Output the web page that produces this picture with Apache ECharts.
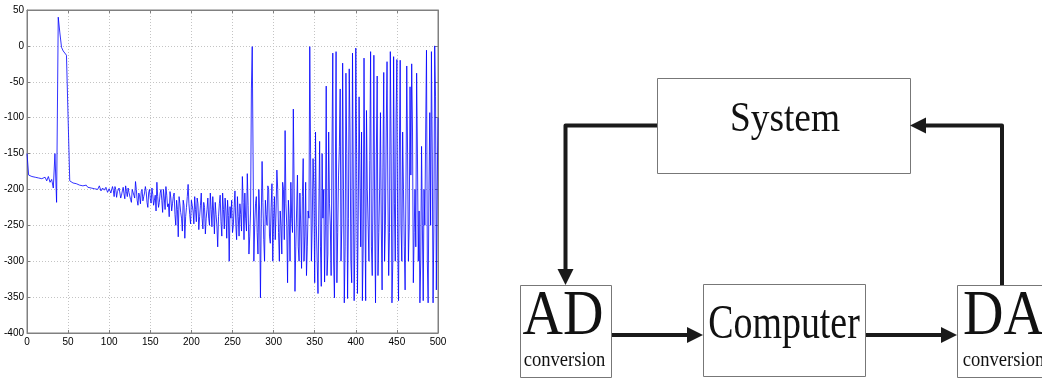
<!DOCTYPE html>
<html>
<head>
<meta charset="utf-8">
<script src="https://cdn.jsdelivr.net/npm/echarts@6/dist/echarts.min.js"></script>
<style>
html,body{margin:0;padding:0;background:#fff;}
#c{width:1042px;height:379px;}
</style>
</head>
<body>
<div id="c"></div>
<script>
// ---- data ----
const xTicks = [0, 50, 100, 150, 200, 250, 300, 350, 400, 450, 500];
const yTicks = [-400, -350, -300, -250, -200, -150, -100, -50, 0, 50];

// values at even x = 0, 2, 4, ..., 500
const evenVals0to50 = [-150, -180, -181, -182, -182, -183, -183, -184, -184, -185, -184, -183, -188, -182, -190,
  -186, -198, -150, -218, 40, 18, -2, -7, -9, -13, -12];
const evenVals52to100 = [-188, -190, -191, -192, -192, -193, -194, -193, -195, -196, -194, -197, -195, -198, -196,
  -199, -197, -200, -195, -202, -198, -201, -197, -204, -199];
const evenVals102to200 = [-205, -196, -210, -200, -203, -198, -212, -202, -206, -195,
  -210, -204, -214, -200, -208, -189, -215, -205, -220, -200,
  -210, -196, -218, -205, -213, -198, -222, -208, -190, -225,
  -205, -215, -200, -228, -208, -220, -203, -230, -210, -235,
  -215, -266, -220, -240, -215, -268, -225, -193, -235, -215];
const evenVals202to300 = [-230, -210, -245, -220, -238, -205, -255, -225, -240, -212,
  -250, -228, -210, -262, -235, -280, -220, -245, -205, -255,
  -230, -215, -300, -240, -260, -225, -248, -210, -265, -235,
  -182, -270, -240, -178, -290, -230, -1, -300, -220, -260,
  -200, -351, -161, -270, -215, -250, -200, -275, -192, -240];
const evenVals302to400 = [-270, -173, -260, -230, -290, -200, -118, -250, -215, -300,
  -240, -88, -342, -230, -280, -205, -310, -157, -265, -320,
  -230, -1, -300, -157, -330,
  -250, -345, -133, -335, -240, -329, -56, -290, -220, -320,
  -10, -351, -8, -260, -140, -300, -24, -358, -38, -352,
  -32, -300, -10, -355, -3];
const evenVals402to500 = [-345, -71, -280, -355, -17, -355, -200, -300, -8, -320,
  -13, -358, -42, -260, -93, -340, -37, -250, -22, -320,
  -8, -358, -15, -300, -19,
  -355, -20, -300, -200, -340, -28, -300, -57, -25, -330,
  -200, -38, -300, -358, -140, -355, -250, -6, -358, -93,
  -8, -358, 0, -340, -100];

// values at odd x = 101, 103, ..., 499
const oddVals101to199 = [-198, -207, -201, -196, -211, -205, -200, -208, -197, -213,
  -203, -198, -206, -218, -202, -212, -200, -222, -209, -203,
  -216, -205, -203, -225, -200, -219, -207, -215, -230, -210,
  -218, -200, -232, -212, -196, -224, -238, -212, -220, -205,
  -250, -228, -210, -232, -258, -222, -238, -210, -220, -248];
const oddVals201to299 = [-222, -248, -228, -212, -256, -222, -240, -218, -262, -228,
  -240, -205, -252, -230, -218, -250, -238, -208, -265, -228,
  -212, -268, -236, -224, -215, -250, -202, -270, -238, -220,
  -258, -218, -205, -258, -222, -265, -60, -150, -250, -210,
  -290, -230, -240, -218, -300, -235, -195, -265, -225, -300];
const oddVals301to399 = [-210, -230, -200, -300, -250, -190, -270, -220, -330, -240,
  -190, -260, -200, -280, -180, -300, -250, -210, -300, -190,
  -280, -240, -150, -250, -200, -120, -300, -230, -280, -150,
  -200, -250, -320, -120, -250, -150, -300, -200, -330, -180,
  -60, -250, -200, -280, -150, -240, -120, -330, -200, -260];
const oddVals401to499 = [-150, -230, -180, -120, -280, -200, -90, -250, -160, -280,
  -200, -250, -150, -320, -200, -250, -170, -300, -120, -200,
  -260, -150, -300, -220, -100, -280, -150, -250, -120, -280,
  -200, -150, -250, -180, -120, -260, -280, -150, -230, -300,
  -250, -200, -120, -300, -200, -250, -150, -250, -70, -200];

const evenVals = [].concat(evenVals0to50, evenVals52to100, evenVals102to200, evenVals202to300, evenVals302to400, evenVals402to500);
const oddVals = [].concat(oddVals101to199, oddVals201to299, oddVals301to399, oddVals401to499);

// diagram labels
const blockLabels = ['System', 'Computer', 'AD', 'DA'];
const subLabel = 'conversion';

// ---- build series (merge even and odd samples in x order) ----
const seriesData = [];
evenVals.forEach((v, i) => {
  const x = i * 2;
  seriesData.push([x, v]);
  const j = (x + 1 - 101) / 2;
  if (x + 1 >= 101 && j < oddVals.length) seriesData.push([x + 1, oddVals[j]]);
});

const chart = echarts.init(document.getElementById('c'), null, {renderer: 'canvas'});

const axisGray = '#808080';
const lab = {color: '#000', fontSize: 10, fontFamily: 'Liberation Sans, Arial, sans-serif'};
const LW = 4, INK = '#1a1a1a', BOX = '#777';
const serif = 'Liberation Serif, Times New Roman, serif';

function txt(text, x, y, size, align, sx) {
  return {type: 'text', x: x, y: y, scaleX: sx, z: 10,
    style: {text: text, x: 0, y: 0, font: size + 'px ' + serif, fill: '#111',
      textAlign: align, textVerticalAlign: 'middle'}};
}
function box(x, y, w, h) {
  return {type: 'rect', shape: {x: x + 0.5, y: y + 0.5, width: w, height: h},
    style: {fill: '#fff', stroke: BOX, lineWidth: 1}, z: 5};
}
function line(points) {
  return {type: 'polyline', shape: {points: points},
    style: {stroke: INK, lineWidth: LW, fill: null, lineJoin: 'round'}, z: 4};
}
function head(tip, dir) {
  const L = 16, H = 8; const [x, y] = tip;
  let pts;
  if (dir === 'right') pts = [[x, y], [x - L, y - H], [x - L, y + H]];
  else if (dir === 'left') pts = [[x, y], [x + L, y - H], [x + L, y + H]];
  else pts = [[x, y], [x - H, y - L], [x + H, y - L]];
  return {type: 'polygon', shape: {points: pts}, style: {fill: INK}, z: 6};
}

const graphics = [
  line([[657, 125.5], [565.5, 125.5], [565.5, 270]]),
  head([565.5, 285], 'down'),
  line([[1002, 285], [1002, 125.5], [925, 125.5]]),
  head([910, 125.5], 'left'),
  line([[611, 335], [690, 335]]),
  head([703, 335], 'right'),
  line([[865, 335], [943, 335]]),
  head([957, 335], 'right'),
  box(657, 78, 253, 95),
  box(520, 285, 91, 92),
  box(703, 284, 162, 92),
  box(957, 285, 100, 92),
  txt(blockLabels[0], 785, 120, 42, 'center', 0.89),
  txt(blockLabels[1], 784, 325, 48, 'center', 0.79),
  txt(blockLabels[2], 563, 317, 63, 'center', 0.89),
  txt(subLabel, 564.5, 361, 20, 'center', 0.93),
  txt(blockLabels[3], 963, 317, 63, 'left', 0.89),
  txt(subLabel, 962.7, 361, 20, 'left', 0.93)
];

const frameAxis = {
  axisLine: {show: true, onZero: false, lineStyle: {color: axisGray}},
  axisTick: {show: true, inside: true, length: 3, lineStyle: {color: axisGray}},
  axisLabel: {show: false}, splitLine: {show: false}
};

chart.setOption({
  animation: false,
  backgroundColor: '#fff',
  grid: {left: 27, top: 10, width: 411, height: 323, show: true, borderColor: axisGray, borderWidth: 1, backgroundColor: '#fff'},
  xAxis: [{
    type: 'value', min: xTicks[0], max: xTicks[xTicks.length - 1], interval: xTicks[1] - xTicks[0],
    axisLine: {show: true, onZero: false, lineStyle: {color: axisGray}},
    axisTick: {show: true, inside: true, length: 3, lineStyle: {color: axisGray}},
    axisLabel: Object.assign({margin: 4}, lab),
    splitLine: {show: true, lineStyle: {color: '#c4c4c4', type: [1, 2], width: 1}}
  }, Object.assign({
    type: 'value', position: 'top', min: xTicks[0], max: xTicks[xTicks.length - 1], interval: xTicks[1] - xTicks[0]
  }, frameAxis)],
  yAxis: [{
    type: 'value', min: yTicks[0], max: yTicks[yTicks.length - 1], interval: yTicks[1] - yTicks[0],
    axisLine: {show: true, onZero: false, lineStyle: {color: axisGray}},
    axisTick: {show: true, inside: true, length: 3, lineStyle: {color: axisGray}},
    axisLabel: Object.assign({margin: 3}, lab),
    splitLine: {show: true, lineStyle: {color: '#c4c4c4', type: [1, 2], width: 1}}
  }, Object.assign({
    type: 'value', position: 'right', min: yTicks[0], max: yTicks[yTicks.length - 1], interval: yTicks[1] - yTicks[0]
  }, frameAxis)],
  series: [{
    type: 'line', data: seriesData, symbol: 'none', xAxisIndex: 0, yAxisIndex: 0,
    lineStyle: {color: '#0000ff', width: 1, opacity: 0.8}, silent: true
  }],
  graphic: graphics
});
</script>
</body>
</html>
